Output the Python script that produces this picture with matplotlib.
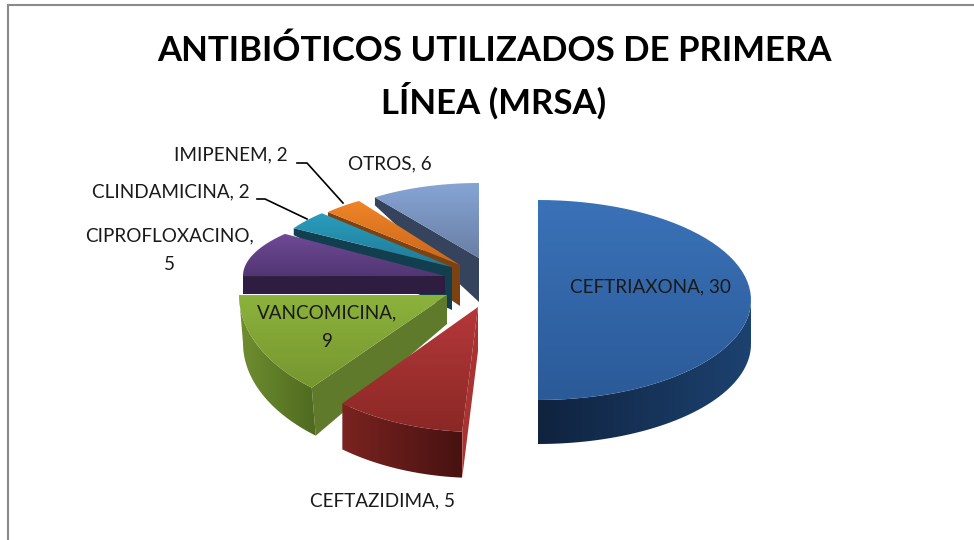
import numpy as np
import matplotlib
matplotlib.use('Agg')
import matplotlib.pyplot as plt
from matplotlib.colors import LinearSegmentedColormap
from matplotlib.patches import Polygon, Rectangle

# data
labels = ['CEFTRIAXONA', 'CEFTAZIDIMA', 'VANCOMICINA', 'CIPROFLOXACINO', 'CLINDAMICINA', 'IMIPENEM', 'OTROS']
values = [30, 5, 9, 5, 2, 2, 6]
title = 'ANTIBIÓTICOS UTILIZADOS DE PRIMERA\nLÍNEA (MRSA)'

# look of each slice
top_light = ['#3a72b8', '#b5383a', '#8cb23c', '#6f4a96', '#2a9dbc', '#f08527', '#86a4d4']
top_dark = ['#2b5a98', '#8a2825', '#76962f', '#523673', '#1f7a99', '#c9661b', '#6a7fa6']
side_light = ['#1c4270', '#7a2320', '#6f8e2f', '#3e2a5c', '#175f73', '#a4530f', '#3f5476']
side_dark = ['#10233f', '#471211', '#4f6a20', '#231635', '#0d3642', '#5f2f07', '#26334a']
inner_wall = ['#10233f', '#a83330', '#5f7a2b', '#2e1d40', '#123f4f', '#7d4212', '#35435c']

# apex of each slice and its radii, in pixels
apex_x = [538, 478, 447, 445, 452, 460, 479]
apex_y = [300, 307, 295, 276, 267, 265, 258]
radius_x = [213, 213, 208, 202, 184, 182, 177]
radius_y = [100, 125, 122, 69, 76, 77, 75]
depth_apex = [44, 44, 29, 18, 43, 41, 44]
depth_rim = [44, 46, 48, 18, 7, 5, 8]
bottom_shift = [0, 0, 4, 0, 0, 0, 0]
# perspective moves the drawn edges away from the true angles
start_fix = [0, 1.2, 7, 1.5, 1.7, 2.3, 0.6]
end_fix = [-3.05, 6, 1.5, 8.6, 3.8, 2.9, 0]


def rim(cx, cy, rx, ry, a0, a1, n=60):
    t = np.radians(np.linspace(a0, a1, n))
    return cx + rx * np.sin(t), cy - ry * np.cos(t)


def gradient_poly(ax, xy, c0, c1, horizontal=True, zorder=1):
    # fill a polygon with a two colour gradient by clipping an image
    poly = Polygon(xy, closed=True, fc='none', ec='none', zorder=zorder)
    ax.add_patch(poly)
    grad = np.linspace(0, 1, 64).reshape(1, -1) if horizontal else np.linspace(0, 1, 64).reshape(-1, 1)
    cmap = LinearSegmentedColormap.from_list('g', [c0, c1])
    x0, y0 = xy.min(axis=0)
    x1, y1 = xy.max(axis=0)
    im = ax.imshow(grad, extent=(x0, x1, y1, y0), cmap=cmap, aspect='auto', zorder=zorder, interpolation='bilinear')
    im.set_clip_path(poly)


fig = plt.figure(figsize=(9.74, 5.4), dpi=100)
ax = fig.add_axes([0, 0, 1, 1])
ax.set_xlim(0, 974)
ax.set_ylim(540, 0)
ax.axis('off')

# chart frame
ax.add_patch(Rectangle((8, 5), 1000, 600, fc='white', ec='#8a8a8a', lw=1.5, zorder=0))

total = sum(values)
sweep = np.cumsum([0] + values) / total * 360

# back slices first, so the front ones overlap them
order = [6, 5, 4, 3, 0, 2, 1]
for k, i in enumerate(order):
    a0 = sweep[i] + start_fix[i]
    a1 = sweep[i + 1] + end_fix[i]
    cx, cy, rx, ry = apex_x[i], apex_y[i], radius_x[i], radius_y[i]
    da, dr, sh = depth_apex[i], depth_rim[i], bottom_shift[i]
    z = 2 + k * 2

    # cut wall going from the apex to the rim
    if i != 0:
        x, y = rim(cx, cy, rx, ry, a0, a0, 2)
        wall = np.array([[cx, cy], [x[0], y[0]], [x[0] + sh, y[0] + dr], [cx, cy + da]])
        ax.add_patch(Polygon(wall, closed=True, fc=inner_wall[i], ec='none', zorder=z))

    # outer wall, only where the rim faces the viewer
    lo, hi = max(a0, 90), min(a1, 270)
    if hi > lo and i in (0, 1, 2):
        x, y = rim(cx, cy, rx, ry, lo, hi)
        wall = np.column_stack([np.r_[x, x[::-1] + sh], np.r_[y, y[::-1] + dr]])
        if i == 0:
            gradient_poly(ax, wall, side_dark[i], side_light[i], zorder=z)
        else:
            gradient_poly(ax, wall, side_light[i], side_dark[i], zorder=z)

    # top face
    x, y = rim(cx, cy, rx, ry, a0, a1)
    face = np.column_stack([np.r_[cx, x], np.r_[cy, y]])
    gradient_poly(ax, face, top_light[i], top_dark[i], horizontal=False, zorder=z + 1)

ax.set_xlim(0, 974)
ax.set_ylim(540, 0)

ax.text(494, 77, title, ha='center', va='center', fontsize=25, fontweight='bold',
        family=['Lato', 'DejaVu Sans'], color='black', linespacing=1.48, zorder=30)

# data labels
txt = dict(fontsize=13.6, family=['Lato', 'DejaVu Sans'], color='#1a1a1a', zorder=30,
           ha='center', va='center', linespacing=1.8)
label_x = [650, 382, 327, 169, 171, 231, 390]
label_y = [287, 501, 327, 250, 192, 155, 164]
breaks = [False, False, True, True, False, False, False]
for name, v, lx, ly, br in zip(labels, values, label_x, label_y, breaks):
    sep = ',\n' if br else ', '
    ax.text(lx, ly, f'{name}{sep}{v}', **txt)

# leader lines
ax.plot([297, 307, 343], [163, 163, 203], color='black', lw=1.2, zorder=30)
ax.plot([257, 265, 307], [199, 199, 219], color='black', lw=1.2, zorder=30)

fig.savefig('out.png', dpi=100)
